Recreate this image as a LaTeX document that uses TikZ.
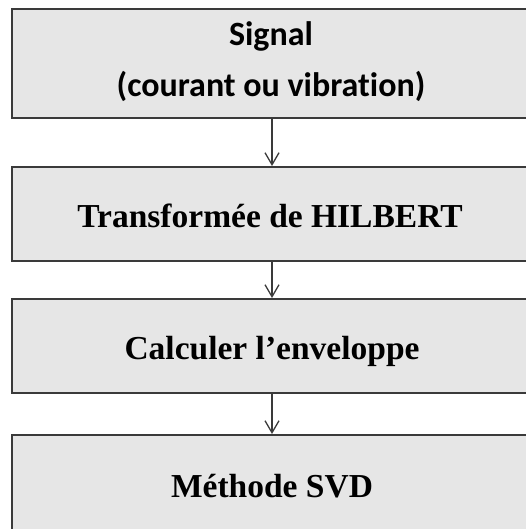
\documentclass[tikz,border=0pt]{standalone}
\usepackage{fontspec}
\setmainfont{Liberation Serif}
\newfontfamily\calib[RawFeature=-liga]{Carlito}
\usetikzlibrary{arrows.meta}
\definecolor{boxfill}{HTML}{E6E6E6}
\definecolor{boxline}{HTML}{3A3A3A}
\tikzset{
  stepbox/.style={draw=boxline, line width=2pt, fill=boxfill, rectangle, minimum width=520pt, inner sep=0pt},
  serifbold/.style={font=\fontsize{33.5}{40}\selectfont\bfseries, anchor=base, inner sep=0pt},
  sansbold/.style={font=\calib\fontsize{34}{40}\selectfont\bfseries, anchor=base, inner sep=0pt},
  flow/.style={draw=boxline, line width=1.3pt, -{Straight Barb[length=12pt,width=14pt,line width=1.3pt]}}
}
\begin{document}
\begin{tikzpicture}[x=1pt,y=1pt]
\useasboundingbox (0,0) rectangle (526,-529);
\node[stepbox, minimum height=109pt] (b1) at (272,-63.5) {};
\node[stepbox, minimum height=94pt] (b2) at (272,-214) {};
\node[stepbox, minimum height=94pt] (b3) at (272,-346) {};
\node[stepbox, minimum height=110pt] (b4) at (272,-490) {};
\node[sansbold] (t1a) at (271,-46) {Signal};
\node[sansbold] (t1b) at (271,-97) {(courant ou vibration)};
\node[serifbold] (t2) at (270,-227) {Transformée de HILBERT};
\node[serifbold] (t3) at (272,-359) {Calculer l’enveloppe};
\node[serifbold] (t4) at (272,-497) {Méthode SVD};
\draw[flow] (b1.south) -- (b2.north);
\draw[flow] (b2.south) -- (b3.north);
\draw[flow] (b3.south) -- (b4.north);
\end{tikzpicture}
\end{document}
